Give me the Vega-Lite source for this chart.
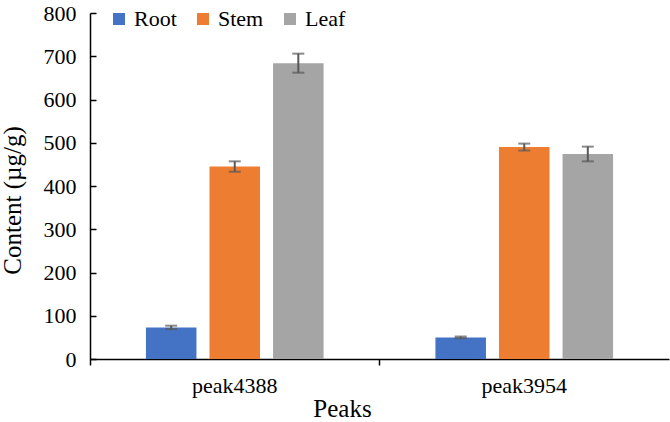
{
  "$schema": "https://vega.github.io/schema/vega-lite/v6.json",
  "width": 579,
  "height": 346,
  "autosize": "none",
  "padding": {"left": 90, "top": 13, "right": 1, "bottom": 63},
  "background": "white",
  "config": {
    "view": {"stroke": null},
    "font": "Liberation Serif",
    "style": {
      "guide-label": {"font": "Liberation Serif", "fill": "black"},
      "guide-title": {"font": "Liberation Serif", "fill": "black"}
    },
    "axis": {
      "domainColor": "black",
      "domainWidth": 1.5,
      "tickColor": "black",
      "tickWidth": 1.5,
      "tickSize": 6,
      "labelColor": "black",
      "titleColor": "black",
      "labelFont": "Liberation Serif",
      "titleFont": "Liberation Serif",
      "labelFontSize": 22,
      "titleFontSize": 25,
      "titleFontWeight": "normal",
      "grid": false,
      "labelOverlap": false
    },
    "legend": {
      "labelFont": "Liberation Serif"
    }
  },
  "data": {
    "values": [
      {"peak": "peak4388", "tissue": "Root", "value": 73, "lo": 69, "hi": 77},
      {"peak": "peak4388", "tissue": "Stem", "value": 445, "lo": 433, "hi": 457},
      {"peak": "peak4388", "tissue": "Leaf", "value": 684, "lo": 662, "hi": 706},
      {"peak": "peak3954", "tissue": "Root", "value": 50, "lo": 48, "hi": 52},
      {"peak": "peak3954", "tissue": "Stem", "value": 490, "lo": 482, "hi": 498},
      {"peak": "peak3954", "tissue": "Leaf", "value": 474, "lo": 457, "hi": 491}
    ]
  },
  "encoding": {
    "x": {
      "field": "peak",
      "type": "nominal",
      "sort": ["peak4388", "peak3954"],
      "scale": {"paddingInner": 0, "paddingOuter": 0},
      "axis": {
        "title": "Peaks",
        "labelAngle": 0,
        "bandPosition": 0,
        "labelBaseline": "alphabetic",
        "labelPadding": 27,
        "labelFont": "Liberation Serif",
        "titleX": 252,
        "titleY": 57,
        "titleBaseline": "alphabetic",
        "titleAlign": "center"
      }
    },
    "xOffset": {
      "field": "tissue",
      "type": "nominal",
      "sort": ["Root", "Stem", "Leaf"],
      "scale": {"paddingInner": 0.205, "paddingOuter": 0.88}
    }
  },
  "layer": [
    {
      "mark": {"type": "bar"},
      "encoding": {
        "y": {
          "field": "value",
          "type": "quantitative",
          "scale": {"domain": [0, 800]},
          "axis": {
            "title": "Content (µg/g)",
            "values": [0, 100, 200, 300, 400, 500, 600, 700, 800],
            "tickSize": -6,
            "labelPadding": 20,
            "labelFont": "Liberation Serif",
            "titleX": -65,
            "titleY": 187,
            "titleAngle": 270,
            "titleAlign": "center",
            "titleBaseline": "bottom"
          }
        },
        "color": {
          "field": "tissue",
          "type": "nominal",
          "sort": ["Root", "Stem", "Leaf"],
          "scale": {"domain": ["Root", "Stem", "Leaf"], "range": ["#4472C4", "#ED7D31", "#A5A5A5"]},
          "legend": {
            "title": null,
            "orient": "none",
            "direction": "horizontal",
            "legendX": 18,
            "legendY": -5,
            "symbolType": "square",
            "symbolSize": 144,
            "symbolStrokeWidth": 0,
            "symbolOpacity": 1,
            "labelFontSize": 22,
            "labelFont": "Liberation Serif",
            "labelColor": "black",
            "columnPadding": 15,
            "labelOffset": 4
          }
        }
      }
    },
    {
      "mark": {"type": "rule", "color": "#595959", "strokeWidth": 2},
      "encoding": {
        "y": {"field": "lo", "type": "quantitative"},
        "y2": {"field": "hi"}
      }
    },
    {
      "mark": {"type": "tick", "color": "#595959", "thickness": 2, "size": 12},
      "encoding": {"y": {"field": "lo", "type": "quantitative"}}
    },
    {
      "mark": {"type": "tick", "color": "#595959", "thickness": 2, "size": 12},
      "encoding": {"y": {"field": "hi", "type": "quantitative"}}
    }
  ]
}
